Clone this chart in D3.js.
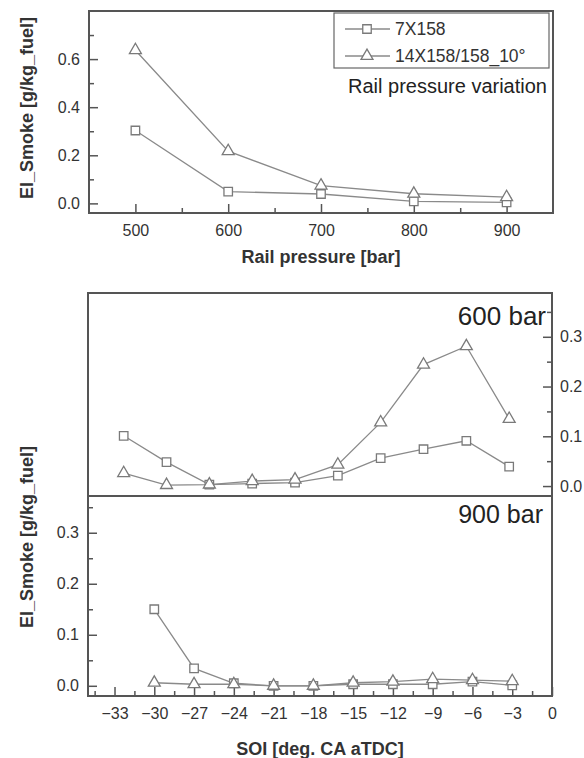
<!DOCTYPE html>
<html>
<head>
<meta charset="utf-8">
<script src="https://cdn.jsdelivr.net/npm/d3@7"></script>
<style>
  body { margin: 0; background: #fff; }
  svg { display: block; font-family: "Liberation Sans", Arial, sans-serif; }
  .axis path { stroke: none; }
  .axis line { stroke: #555; stroke-width: 1.5; }
  .axis text { fill: #333; font-size: 16px; font-family: "Liberation Sans", Arial, sans-serif; }
</style>
</head>
<body>
<svg width="584" height="758"></svg>
<script>
// top chart: rail pressure sweep
const pressure = [500, 600, 700, 800, 900];
const rail7x158 = [0.303, 0.049, 0.039, 0.008, 0.004];
const rail14x158 = [0.637, 0.217, 0.074, 0.040, 0.026];

// bottom chart: SOI sweep
const soi = [-30, -27, -24, -21, -18, -15, -12, -9, -6, -3];
const soi600_7x158 = [0.101, 0.048, 0.003, 0.005, 0.007, 0.021, 0.056, 0.074, 0.091, 0.039];
const soi600_14x158 = [0.026, 0.002, 0.003, 0.010, 0.013, 0.043, 0.128, 0.244, 0.281, 0.135];
const soi900_7x158 = [0.150, 0.034, 0.005, 0.000, 0.000, 0.003, 0.003, 0.003, 0.008, 0.001];
const soi900_14x158 = [0.006, 0.003, 0.003, 0.000, 0.000, 0.006, 0.008, 0.013, 0.011, 0.009];

const seriesNames = ["7X158", "14X158/158_10°"];

const svg = d3.select("svg");
const lineColor = "#8a8a8a";
const markColor = "#7a7a7a";
const frameColor = "#555";

const sq = d3.symbol().type(d3.symbolSquare).size(72);
const tri = d3.symbol().type(d3.symbolTriangle).size(62);

function drawSeries(g, xs, ys, x, y, shape) {
  const pts = xs.map((v, i) => [v, ys[i]]);
  g.append("path")
    .datum(pts)
    .attr("fill", "none")
    .attr("stroke", lineColor)
    .attr("stroke-width", 1.3)
    .attr("d", d3.line().x(d => x(d[0])).y(d => y(d[1])));
  g.selectAll(null)
    .data(pts)
    .enter().append("path")
    .attr("d", shape)
    .attr("transform", d => `translate(${x(d[0])},${y(d[1])})`)
    .attr("fill", "#fff")
    .attr("stroke", markColor)
    .attr("stroke-width", 1.3);
}

function frame(x0, y0, x1, y1) {
  svg.append("rect")
    .attr("x", x0).attr("y", y0)
    .attr("width", x1 - x0).attr("height", y1 - y0)
    .attr("fill", "none")
    .attr("stroke", frameColor)
    .attr("stroke-width", 2);
}

// ---------- top chart ----------
const xRail = d3.scaleLinear().domain([450, 950]).range([89, 553]);
const yRail = d3.scaleLinear().domain([-0.04, 0.8]).range([213, 11]);

svg.append("g").attr("class", "axis")
  .attr("transform", "translate(0,213)")
  .call(d3.axisBottom(xRail).tickValues(pressure).tickSize(-9).tickPadding(12).tickFormat(d3.format("d")));
svg.append("g").attr("class", "axis")
  .attr("transform", "translate(0,213)")
  .call(d3.axisBottom(xRail).tickValues([550, 650, 750, 850]).tickSize(-5).tickFormat(""));
svg.append("g").attr("class", "axis")
  .attr("transform", "translate(89,0)")
  .call(d3.axisLeft(yRail).tickValues([0, 0.2, 0.4, 0.6]).tickSize(-9).tickPadding(9).tickFormat(d3.format(".1f")));
svg.append("g").attr("class", "axis")
  .attr("transform", "translate(89,0)")
  .call(d3.axisLeft(yRail).tickValues([0.1, 0.3, 0.5, 0.7]).tickSize(-5).tickFormat(""));

const railG = svg.append("g");
drawSeries(railG, pressure, rail7x158, xRail, yRail, sq);
drawSeries(railG, pressure, rail14x158, xRail, yRail, tri);
frame(89, 11, 553, 213);

// legend
svg.append("rect")
  .attr("x", 334).attr("y", 13).attr("width", 215).attr("height", 55)
  .attr("fill", "#fff").attr("stroke", "#666").attr("stroke-width", 1.2);
[sq, tri].forEach((shape, i) => {
  const ly = 29 + i * 27;
  svg.append("line")
    .attr("x1", 345).attr("x2", 390).attr("y1", ly).attr("y2", ly)
    .attr("stroke", lineColor).attr("stroke-width", 1.3);
  svg.append("path")
    .attr("d", shape)
    .attr("transform", `translate(367,${ly})`)
    .attr("fill", "#fff").attr("stroke", markColor).attr("stroke-width", 1.3);
  svg.append("text")
    .attr("x", 395).attr("y", ly + 6)
    .attr("font-size", 17.5).attr("fill", "#333")
    .text(seriesNames[i]);
});

svg.append("text")
  .attr("x", 547).attr("y", 93)
  .attr("text-anchor", "end")
  .attr("font-size", 20).attr("fill", "#222")
  .text("Rail pressure variation");

svg.append("text")
  .attr("x", 321).attr("y", 263)
  .attr("text-anchor", "middle")
  .attr("font-size", 18).attr("font-weight", "bold").attr("fill", "#333")
  .text("Rail pressure [bar]");

svg.append("text")
  .attr("transform", "translate(27,108) rotate(-90)")
  .attr("text-anchor", "middle")
  .attr("dominant-baseline", "central")
  .attr("font-size", 18).attr("font-weight", "bold").attr("fill", "#333")
  .text("El_Smoke [g/kg_fuel]");

// ---------- bottom chart: two stacked panels ----------
const xUp = d3.scaleLinear().domain([-32.5, 0]).range([88, 552]);
const xLo = d3.scaleLinear().domain([-35, 0]).range([88, 552]);
const yUp = d3.scaleLinear().domain([-0.02, 0.388]).range([496, 293]);
const yLo = d3.scaleLinear().domain([-0.02, 0.372]).range([696, 496]);

// upper panel, right axis
svg.append("g").attr("class", "axis")
  .attr("transform", "translate(552,0)")
  .call(d3.axisRight(yUp).tickValues([0, 0.1, 0.2, 0.3]).tickSize(-9).tickPadding(8).tickFormat(d3.format(".1f")));
svg.append("g").attr("class", "axis")
  .attr("transform", "translate(552,0)")
  .call(d3.axisRight(yUp).tickValues([0.05, 0.15, 0.25, 0.35]).tickSize(-5).tickFormat(""));

// lower panel, left and bottom axes
svg.append("g").attr("class", "axis")
  .attr("transform", "translate(88,0)")
  .call(d3.axisLeft(yLo).tickValues([0, 0.1, 0.2, 0.3]).tickSize(-9).tickPadding(9).tickFormat(d3.format(".1f")));
svg.append("g").attr("class", "axis")
  .attr("transform", "translate(88,0)")
  .call(d3.axisLeft(yLo).tickValues([0.05, 0.15, 0.25, 0.35]).tickSize(-5).tickFormat(""));

const soiTicks = d3.range(-33, 1, 3);
svg.append("g").attr("class", "axis")
  .attr("transform", "translate(0,696)")
  .call(d3.axisBottom(xLo).tickValues(soiTicks).tickSize(-9).tickPadding(12).tickFormat(d3.format("d")));
svg.append("g").attr("class", "axis")
  .attr("transform", "translate(0,696)")
  .call(d3.axisBottom(xLo).tickValues(d3.range(-34.5, 0, 3)).tickSize(-5).tickFormat(""));

const upG = svg.append("g");
drawSeries(upG, soi, soi600_7x158, xUp, yUp, sq);
drawSeries(upG, soi, soi600_14x158, xUp, yUp, tri);
const loG = svg.append("g");
drawSeries(loG, soi, soi900_7x158, xLo, yLo, sq);
drawSeries(loG, soi, soi900_14x158, xLo, yLo, tri);

frame(88, 293, 552, 496);
frame(88, 496, 552, 696);

svg.append("text")
  .attr("x", 546).attr("y", 325)
  .attr("text-anchor", "end")
  .attr("font-size", 26).attr("fill", "#222")
  .text("600 bar");
svg.append("text")
  .attr("x", 543).attr("y", 523)
  .attr("text-anchor", "end")
  .attr("font-size", 25).attr("fill", "#222")
  .text("900 bar");

svg.append("text")
  .attr("x", 320).attr("y", 755)
  .attr("text-anchor", "middle")
  .attr("font-size", 18).attr("font-weight", "bold").attr("fill", "#333")
  .text("SOI [deg. CA aTDC]");

svg.append("text")
  .attr("transform", "translate(27,537) rotate(-90)")
  .attr("text-anchor", "middle")
  .attr("dominant-baseline", "central")
  .attr("font-size", 18).attr("font-weight", "bold").attr("fill", "#333")
  .text("El_Smoke [g/kg_fuel]");
</script>
</body>
</html>
